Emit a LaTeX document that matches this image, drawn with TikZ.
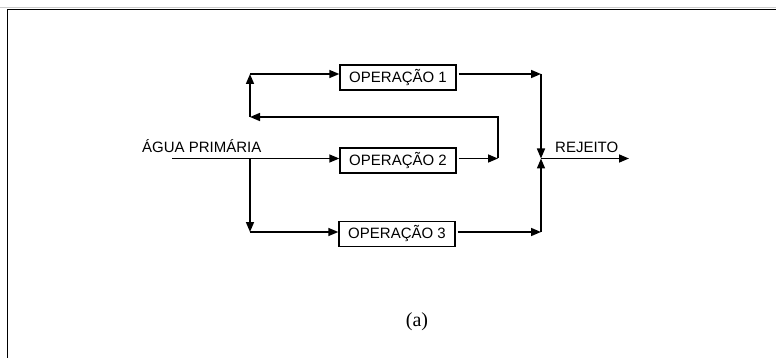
\documentclass[tikz,border=0pt]{standalone}
\usepackage{fontspec}
\setmainfont{Liberation Sans}
\newfontfamily\serifA{Liberation Serif}
\usetikzlibrary{arrows.meta}
\begin{document}
\begin{tikzpicture}[x=1pt,y=-1pt,
 opbox/.style={draw,line width=1.4pt,minimum width=116pt,minimum height=25pt,inner sep=0pt,font=\fontsize{15}{15}\selectfont},
 flow/.style={line width=1.5pt,-{Triangle[length=10pt,width=8pt]}},
 plain/.style={line width=1.5pt},
 lbl/.style={font=\fontsize{15}{15}\selectfont,inner sep=0pt}]
\useasboundingbox (0,0) rectangle (776,358);
\draw[gray!40, line width=1pt] (0,7.5) -- (776,7.5);
\draw[line width=1pt] (776,9.5) -- (7,9.5) -- (7,358);
% boxes
\node[opbox] (op1) at (398,77.5) {OPERAÇÃO 1};
\node[opbox] (op2) at (398,160.5) {OPERAÇÃO 2};
\node[opbox] (op3) at (397,234) {OPERAÇÃO 3};
% coordinates
\coordinate (s1) at (250,74);
\coordinate (f) at (250,117);
\coordinate (a0) at (172,158.5);
\coordinate (j) at (250,158.5);
\coordinate (s3) at (250,232);
\coordinate (fb) at (498,158.5);
\coordinate (fbt) at (498,117);
\coordinate (r1) at (541,74);
\coordinate (rm) at (541,158.5);
\coordinate (r3) at (541,232);
\coordinate (rend) at (629,158.5);
% labels
\node[lbl,anchor=base west] (agua) at (142,152.5) {ÁGUA PRIMÁRIA};
\node[lbl,anchor=base west] (rej) at (555,152.5) {REJEITO};
\node[font=\serifA\fontsize{20}{20}\selectfont,inner sep=0pt] (cap) at (417,322) {(a)};
% connectors
\draw[plain] (a0) -- (j);
\draw[flow] (j) -- (op2.west |- j);
\draw[flow] (j) -- (s3);
\draw[flow] (s3) -- (op3.west |- s3);
\draw[flow] (f) -- (s1);
\draw[flow] (s1) -- (op1.west |- s1);
\draw[flow] ([xshift=2pt]op2.east |- fb) -- (fb);
\draw[flow] (fb) -- (fbt) -- (f);
\draw[flow] ([xshift=2pt]op1.east |- r1) -- (r1);
\draw[flow] (r1) -- (rm);
\draw[flow] ([xshift=2pt]op3.east |- r3) -- (r3);
\draw[flow] (r3) -- (rm);
\draw[flow] (rm) -- (rend);
\end{tikzpicture}
\end{document}
